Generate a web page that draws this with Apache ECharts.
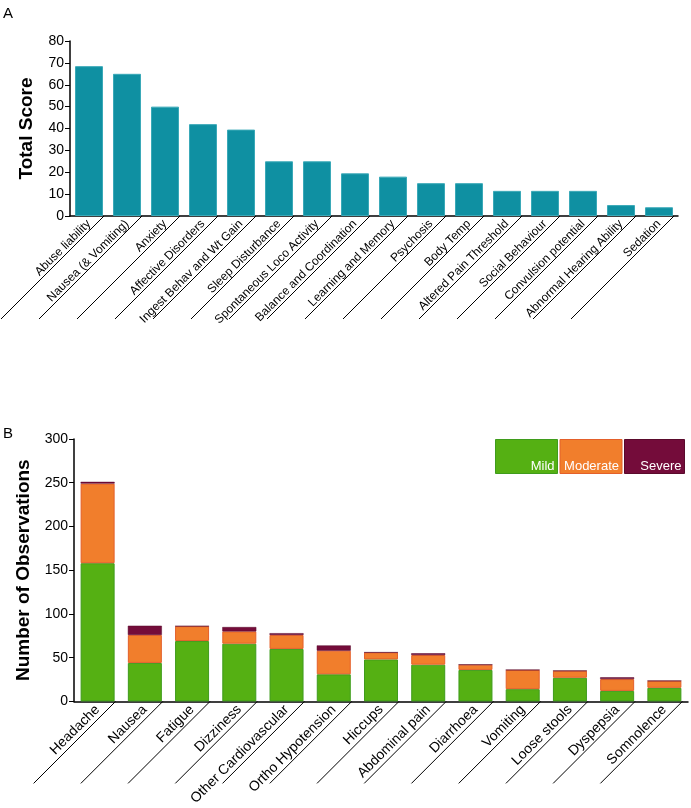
<!DOCTYPE html>
<html>
<head>
<meta charset="utf-8">
<script src="https://cdn.jsdelivr.net/npm/echarts@6/dist/echarts.min.js"></script>
<style>
  html, body { margin: 0; padding: 0; background: #fff; }
  #chart { width: 691px; height: 808px; }
</style>
</head>
<body>
<div id="chart"></div>
<script>
// panel A
var testCategories = [
  "Abuse liability", "Nausea (& Vomiting)", "Anxiety", "Affective Disorders",
  "Ingest Behav and Wt Gain", "Sleep Disturbance", "Spontaneous Loco Activity",
  "Balance and Coordination", "Learning and Memory", "Psychosis", "Body Temp",
  "Altered Pain Threshold", "Social Behaviour", "Convulsion potential",
  "Abnormal Hearing Ability", "Sedation"
];
var totalScores = [68.5, 65, 50, 42, 39.5, 25, 25, 19.5, 18, 15, 15, 11.5, 11.5, 11.5, 5, 4];

// panel B
var effectCategories = [
  "Headache", "Nausea", "Fatigue", "Dizziness", "Other Cardiovascular",
  "Ortho Hypotension", "Hiccups", "Abdominal pain", "Diarrhoea", "Vomiting",
  "Loose stools", "Dyspepsia", "Somnolence"
];
var mild = [158, 44, 69, 66, 60, 31, 48, 42, 36, 14, 27, 12, 15.5];
var moderate = [91, 32, 17, 14, 16, 27, 8, 11, 6, 22, 8, 13.5, 8];
var severe = [2, 10.5, 0, 5, 2, 6, 0, 2, 0, 0, 0, 2, 0];
var severityNames = ["Mild", "Moderate", "Severe"];
var severityColors = ["#55b013", "#f17e2c", "#740c3a"];
var severityBorders = ["#3f9c1c", "#e4602a", "#5a0a2c"];

var font = "'Liberation Sans', Arial, sans-serif";

var dom = document.getElementById("chart");
var myChart = echarts.init(dom, null, { renderer: "canvas" });

// diagonal guide lines under the category labels
function slashSeries(axisIdx, n, halfBar, len) {
  return {
    type: "custom",
    xAxisIndex: axisIdx,
    yAxisIndex: axisIdx,
    silent: true,
    clip: false,
    z: 1,
    data: n.map(function (c, i) { return [i, 0]; }),
    renderItem: function (params, api) {
      var p = api.coord([api.value(0), 0]);
      var x = p[0] + halfBar + 1;
      return {
        type: "line",
        shape: { x1: x, y1: p[1], x2: x - len, y2: p[1] + len },
        style: { stroke: "#000", lineWidth: 1 }
      };
    }
  };
}

var yAxisCommon = {
  type: "value",
  axisLine: { show: true, lineStyle: { color: "#000", width: 1.5 } },
  axisTick: { show: true, length: 5, lineStyle: { color: "#000" } },
  axisLabel: { color: "#000", fontSize: 14, fontFamily: font, margin: 6 },
  splitLine: { show: false },
  nameLocation: "middle",
  nameRotate: 90,
  nameTextStyle: { color: "#000", fontSize: 19, fontWeight: "bold", fontFamily: font }
};

var xAxisCommon = {
  type: "category",
  axisLine: { show: true, lineStyle: { color: "#000", width: 1.5 } },
  axisTick: { show: false },
  axisLabel: { color: "#000", rotate: 45, interval: 0, fontFamily: font, margin: 6 }
};

var option = {
  animation: false,
  grid: [
    { left: 70, right: 13, top: 41, height: 175 },
    { left: 74, right: 3, top: 439, height: 271 }
  ],
  xAxis: [
    Object.assign({}, xAxisCommon, {
      gridIndex: 0,
      data: testCategories,
      axisLabel: Object.assign({}, xAxisCommon.axisLabel, { fontSize: 12 })
    }),
    Object.assign({}, xAxisCommon, {
      gridIndex: 1,
      data: effectCategories,
      axisLabel: Object.assign({}, xAxisCommon.axisLabel, { fontSize: 14 })
    })
  ],
  yAxis: [
    Object.assign({}, yAxisCommon, {
      gridIndex: 0, min: 0, max: 80, interval: 10,
      name: "Total Score", nameGap: 34
    }),
    Object.assign({}, yAxisCommon, {
      gridIndex: 1, min: 0, max: 300, interval: 50,
      name: "Number of Observations", nameGap: 40
    })
  ],
  series: [
    {
      type: "bar",
      xAxisIndex: 0,
      yAxisIndex: 0,
      barWidth: 28,
      data: totalScores,
      itemStyle: { color: "#0f90a2", borderColor: "#3aa9b8", borderWidth: 1 }
    },
    slashSeries(0, testCategories, 14, 103),
    {
      name: severityNames[0], type: "bar", stack: "obs",
      xAxisIndex: 1, yAxisIndex: 1, barWidth: 34, data: mild,
      itemStyle: { color: severityColors[0], borderColor: severityBorders[0], borderWidth: 1 }
    },
    {
      name: severityNames[1], type: "bar", stack: "obs",
      xAxisIndex: 1, yAxisIndex: 1, barWidth: 34, data: moderate,
      itemStyle: { color: severityColors[1], borderColor: severityBorders[1], borderWidth: 1 }
    },
    {
      name: severityNames[2], type: "bar", stack: "obs",
      xAxisIndex: 1, yAxisIndex: 1, barWidth: 34, data: severe,
      itemStyle: { color: severityColors[2], borderColor: severityBorders[2], borderWidth: 0.5 }
    },
    slashSeries(1, effectCategories, 17, 82)
  ],
  graphic: [
    { type: "text", left: 3, top: 6, style: { text: "A", fontSize: 15, fontFamily: font, fill: "#000" } },
    { type: "text", left: 3, top: 426, style: { text: "B", fontSize: 15, fontFamily: font, fill: "#000" } },
    {
      type: "group",
      left: 495,
      top: 439,
      children: severityNames.map(function (nm, i) {
        var x = i * 64.5;
        var w = i === 2 ? 60 : 62;
        return {
          type: "group",
          children: [
            {
              type: "rect",
              shape: { x: x, y: 0, width: w, height: 34 },
              style: { fill: severityColors[i], stroke: severityBorders[i], lineWidth: 1 }
            },
            {
              type: "text",
              x: x + w - 3,
              y: 33,
              style: {
                text: nm, fill: "#fff", fontSize: 13, fontFamily: font,
                align: "right", verticalAlign: "bottom"
              }
            }
          ]
        };
      })
    }
  ]
};

if (option && typeof option === "object") {
  myChart.setOption(option);
}
window.onresize = function () {
  myChart.resize();
};
</script>
</body>
</html>
